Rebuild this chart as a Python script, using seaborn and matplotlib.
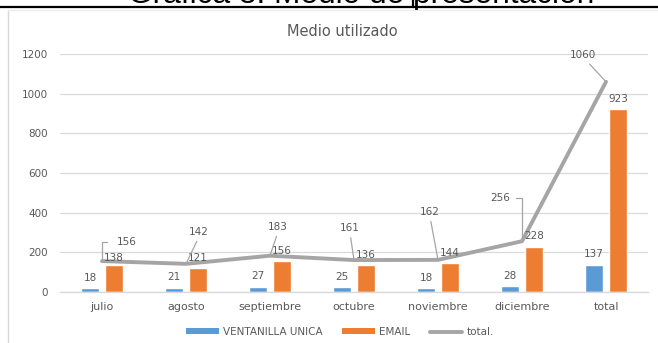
import matplotlib
matplotlib.use("Agg")
import matplotlib.pyplot as plt
from matplotlib.lines import Line2D
from matplotlib.patches import Patch
import seaborn as sns
import pandas as pd

# Data
meses = ["julio", "agosto", "septiembre", "octubre", "noviembre", "diciembre", "total"]
ventanilla = [18, 21, 27, 25, 18, 28, 137]
email = [138, 121, 156, 136, 144, 228, 923]
total = [156, 142, 183, 161, 162, 256, 1060]
series = ["VENTANILLA UNICA", "EMAIL", "total."]
yticks = [0, 200, 400, 600, 800, 1000, 1200]

BLUE = "#5B9BD5"
ORANGE = "#ED7D31"
GRAY = "#A5A5A5"
TXT = "#595959"
GRID = "#D9D9D9"

sns.set_theme(style="white")
plt.rcParams["font.family"] = ["DejaVu Sans"]

W, H = 658, 343
fig = plt.figure(figsize=(W / 100, H / 100), dpi=100)
fig.patch.set_facecolor("white")


def fx(px):
    return px / W


def fy(py):
    return 1 - py / H


ax = fig.add_axes([fx(60), fy(292), fx(648) - fx(60), fy(54) - fy(292)])

df = pd.DataFrame({
    "mes": meses * 2,
    "valor": ventanilla + email,
    "serie": [series[0]] * len(meses) + [series[1]] * len(meses),
})
sns.barplot(data=df, x="mes", y="valor", hue="serie", order=meses,
            hue_order=series[:2], palette=[BLUE, ORANGE], width=0.571,
            gap=0.25, saturation=1, errorbar=None, legend=False, ax=ax,
            zorder=2)
sns.lineplot(x=meses, y=total, color=GRAY, linewidth=2.8, sort=False,
             legend=False, ax=ax, zorder=3)

ax.set_ylim(0, 1200)
ax.set_xlim(-0.5, len(meses) - 0.5)
ax.set_yticks(yticks)
ax.set_xlabel("")
ax.set_ylabel("")
ax.yaxis.grid(True, color=GRID, linewidth=0.9)
ax.set_axisbelow(True)
for side in ["left", "right", "top"]:
    ax.spines[side].set_visible(False)
ax.spines["bottom"].set_color(GRID)
ax.spines["bottom"].set_linewidth(1.0)
ax.tick_params(axis="x", length=0, pad=7, labelsize=8, labelcolor=TXT)
ax.tick_params(axis="y", length=0, pad=8.5, labelsize=7.5, labelcolor=TXT)

# Bar value labels
for cont, vals in zip(ax.containers, [ventanilla, email]):
    for bar, v in zip(cont, vals):
        off = 4.5 if v == 138 else 7.5
        ax.annotate(str(v), (bar.get_x() + bar.get_width() / 2, v),
                    xytext=(0, off), textcoords="offset points",
                    ha="center", va="center", fontsize=7.5, color=TXT,
                    zorder=5)

# Line labels with leader lines (offsets in pixels)
px2pt = 0.72
line_labels = {
    0: ((25, 19), "angle,angleA=0,angleB=90,rad=0", (0, 0.5), 5),
    1: ((13, 32), "arc3", (0.5, 0), 1),
    2: ((8, 29), "arc3", (0.5, 0), 1),
    3: ((-4, 32), "arc3", (0.5, 0), 1),
    4: ((-8, 48), "arc3", (0.5, 0), 1),
    5: ((-22, 43), "angle,angleA=0,angleB=90,rad=0", (1, 0.5), 2),
    6: ((-23, 27), "arc3", (0.6, 0), 1),
}
for i, v in enumerate(total):
    (dx, dy), conn, rel, shr = line_labels[i]
    ax.annotate(str(v), (i, v), xytext=(dx * px2pt, dy * px2pt),
                textcoords="offset points", ha="center", va="center",
                fontsize=7.5, color=TXT, zorder=6,
                arrowprops=dict(arrowstyle="-", color=GRAY, lw=0.9,
                                connectionstyle=conn, relpos=rel,
                                shrinkA=shr, shrinkB=0))

# Chart title
fig.text(fx(342), fy(31), "Medio utilizado", ha="center", va="center",
         fontsize=10.5, color=TXT)

# Legend
handles = [Patch(facecolor=BLUE, edgecolor="none"),
           Patch(facecolor=ORANGE, edgecolor="none"),
           Line2D([], [], color=GRAY, linewidth=2.8)]
fig.legend(handles, series, loc="center", bbox_to_anchor=(fx(340), fy(332)),
           ncol=3, frameon=False, fontsize=7.5, labelcolor=TXT,
           handlelength=3.1, handleheight=0.55, handletextpad=0.4,
           columnspacing=1.9)

# Chart frame
fig.add_artist(Line2D([fx(8), fx(8)], [fy(10), 0], color=GRID, lw=1.0))
fig.add_artist(Line2D([fx(8), 1], [fy(10), fy(10)], color="#EDEDED", lw=1.0))

# Document caption above the chart, cut by the page edge
cap = fig.text(fx(128), fy(2.5), "Gráfica 8. Medio de presentación",
               ha="left", va="baseline", fontsize=20, color="black",
               family="Liberation Sans")
r = fig.canvas.get_renderer()
w = cap.get_window_extent(r).width
cap.set_fontsize(20 * 465 / w)
fig.add_artist(Line2D([0, 1], [fy(7), fy(7)], color="black", lw=1.6))
fig.add_artist(Line2D([fx(413), fx(413)], [fy(7), 1], color="black", lw=1.6))

fig.savefig("out.png", dpi=100, facecolor="white")
